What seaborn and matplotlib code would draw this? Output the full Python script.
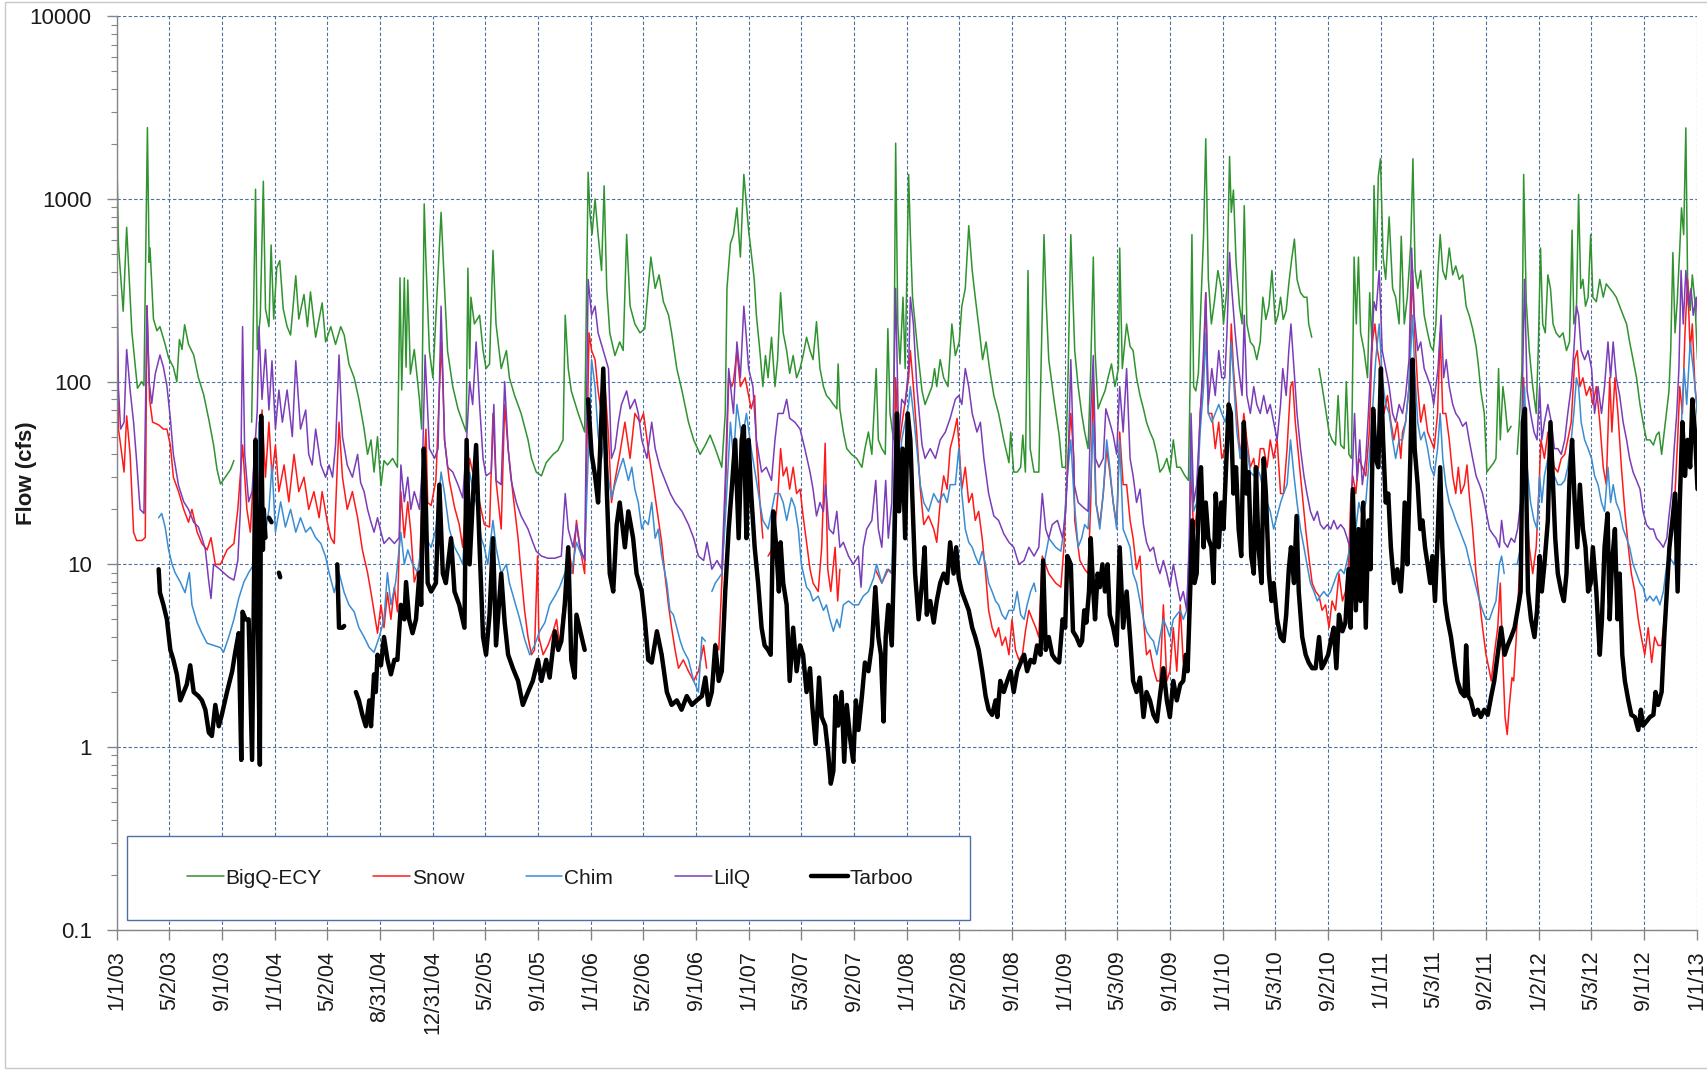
import numpy as np
import pandas as pd
import matplotlib
matplotlib.use("Agg")
import matplotlib.pyplot as plt
import matplotlib.ticker as mticker
from matplotlib.lines import Line2D
from matplotlib.patches import Rectangle
import seaborn as sns

# ---------------- data (day = days since 1/1/2003, cfs; None = gap) ----------------
START = "2003-01-01"
series_names = ["BigQ-ECY", "Snow", "Chim", "LilQ", "Tarboo"]
series_colors = ["#2f932f", "#ff1a1a", "#3a8dd2", "#7a3db8", "#000000"]

x_tick_labels = ["1/1/03", "5/2/03", "9/1/03", "1/1/04", "5/2/04", "8/31/04", "12/31/04",
                 "5/2/05", "9/1/05", "1/1/06", "5/2/06", "9/1/06", "1/1/07", "5/3/07",
                 "9/2/07", "1/1/08", "5/2/08", "9/1/08", "1/1/09", "5/3/09", "9/1/09",
                 "1/1/10", "5/3/10", "9/2/10", "1/1/11", "5/3/11", "9/2/11", "1/2/12",
                 "5/3/12", "9/1/12", "1/1/13"]
y_ticks = [0.1, 1, 10, 100, 1000, 10000]
y_tick_labels = ["0.1", "1", "10", "100", "1000", "10000"]

bigq = [(0,1840),(4,560),(15,243),(23,700),(35,188),(48,92),(58,100),(63,95),(71,2460),(75,450),(77,540),
(85,220),(93,190),(100,200),(112,160),(120,135),(131,120),(139,100),(145,170),(151,150),(157,205),(166,160),
(178,140),(189,105),(201,85),(213,62),(224,45),(232,33),(240,27.5),(251,30),(263,33),(271,37),(290,None),
(312,60),(321,1130),(325,150),(332,228),(339,1250),(344,250),(352,200),(357,560),(363,220),(370,420),(377,460),
(385,250),(394,200),(402,180),(414,380),(421,220),(433,300),(441,200),(448,310),(460,175),(475,270),(483,165),
(495,200),(506,160),(518,200),(526,180),(537,125),(549,105),(560,80),(572,55),(580,40),(588,48),(595,32),
(603,50),(611,27),(618,37),(626,35),(638,38),(649,34),(655,370),(659,90),(665,370),(669,120),(673,360),
(679,110),(688,150),(700,80),(705,55),(711,940),(715,455),(723,147),(731,105),(750,845),(758,325),(765,147),
(777,94),(789,71),(800,60),(808,53),(812,418),(816,118),(819,290),(827,207),(839,231),(847,148),(854,118),
(862,125),(870,523),(877,207),(889,118),(901,148),(908,105),(920,84),(935,67),(951,48),(959,38),(970,32),
(982,30.5),(993,36),(1009,40),(1020,42),(1032,48),(1037,231),(1044,118),(1051,89),(1067,67),(1082,53),
(1090,1400),(1094,845),(1099,640),(1106,1000),(1113,640),(1121,406),(1127,1180),(1133,324),(1140,185),
(1152,139),(1163,165),(1171,148),(1179,640),(1187,259),(1198,207),(1210,185),(1221,195),(1235,481),(1245,324),
(1254,384),(1264,274),(1276,231),(1283,185),(1295,118),(1307,89),(1322,60),(1334,48),(1349,40),(1361,45),
(1372,51),(1384,43),(1399,34),(1407,67),(1411,324),(1419,570),(1426,638),(1434,894),(1442,481),(1450,1363),
(1461,675),(1467,510),(1474,363),(1479,231),(1487,148),(1494,94),(1500,139),(1506,105),(1514,175),(1522,94),
(1528,132),(1535,307),(1541,185),(1549,148),(1556,111),(1564,139),(1572,105),(1580,118),(1587,139),(1595,175),
(1603,148),(1610,132),(1618,213),(1626,118),(1634,94),(1641,84),(1649,80),(1657,75),(1665,71),(1668,125),
(1672,71),(1680,53),(1688,43),(1699,40),(1711,38),(1723,34),(1730,43),(1738,53),(1746,40),(1756,118),(1761,48),
(1769,43),(1777,40),(1783,195),(1788,67),(1796,48),(1801,2020),(1806,207),(1811,125),(1818,290),(1823,118),
(1831,1363),(1835,638),(1840,290),(1846,207),(1854,132),(1862,89),(1869,75),(1877,84),(1885,94),(1891,118),
(1896,94),(1904,132),(1912,105),(1922,94),(1931,207),(1939,139),(1948,165),(1954,259),(1962,324),(1970,714),
(1978,406),(1985,290),(1995,185),(2002,132),(2010,165),(2018,118),(2028,84),(2039,67),(2051,48),(2063,36),
(2067,53),(2074,32),(2082,32),(2090,34),(2095,51),(2101,32),(2107,406),(2112,43),(2121,32),(2132,32),(2138,148),
(2144,638),(2149,274),(2155,132),(2167,80),(2179,51),(2186,34),(2194,34),(2200,118),(2206,638),(2215,148),
(2223,94),(2231,67),(2238,53),(2246,43),(2252,118),(2258,481),(2262,148),(2269,71),(2277,80),(2285,89),(2292,105),
(2300,125),(2308,94),(2316,118),(2319,539),(2325,118),(2335,207),(2343,156),(2350,148),(2358,105),(2366,84),
(2374,71),(2381,60),(2389,53),(2397,48),(2405,40),(2412,32),(2420,34),(2428,38),(2435,32),(2443,48),(2451,34),
(2459,34),(2470,30.5),(2478,28.8),(2482,105),(2486,638),(2490,94),(2495,89),(2501,111),(2507,274),(2513,638),
(2518,2136),(2524,363),(2531,207),(2538,274),(2546,406),(2554,324),(2559,207),(2567,324),(2573,1708),(2577,845),
(2582,1119),(2588,455),(2596,259),(2602,207),(2607,919),(2613,207),(2621,165),(2629,156),(2636,132),(2644,165),
(2650,290),(2657,219),(2664,259),(2671,406),(2679,207),(2685,231),(2691,290),(2697,219),(2704,245),(2710,343),
(2716,455),(2723,603),(2729,363),(2737,307),(2745,290),(2752,290),(2756,207),(2763,175),(2770,None),(2780,118),
(2787,94),(2795,71),(2803,53),(2810,48),(2818,45),(2824,84),(2830,45),(2838,43),(2843,100),(2849,40),(2855,38),
(2861,481),(2866,207),(2871,481),(2876,185),(2884,148),(2892,105),(2897,307),(2903,148),(2907,1184),(2912,406),
(2917,1330),(2922,1660),(2928,481),(2934,363),(2942,798),(2950,324),(2957,290),(2965,207),(2970,625),(2977,207),
(2984,290),(2992,570),(2997,1660),(3002,406),(3008,324),(3015,406),(3023,231),(3031,185),(3038,156),(3044,148),
(3050,207),(3055,406),(3060,638),(3066,406),(3073,363),(3081,539),(3089,384),(3096,430),(3104,363),(3112,384),
(3120,259),(3127,231),(3135,195),(3143,156),(3148,125),(3154,89),(3162,67),(3168,32),(3176,34),(3184,36),
(3189,38),(3195,118),(3199,48),(3205,94),(3210,75),(3216,53),(3224,57),(3231,None),(3238,40),(3243,60),(3249,118),
(3253,1363),(3259,274),(3266,148),(3274,94),(3282,67),(3287,156),(3292,539),(3297,207),(3303,185),(3309,384),
(3315,324),(3321,207),(3328,185),(3336,175),(3344,185),(3352,148),(3359,165),(3365,675),(3369,207),(3375,245),
(3380,1058),(3385,324),(3390,363),(3396,259),(3402,290),(3408,638),(3413,290),(3421,274),(3429,363),(3437,290),
(3444,343),(3452,324),(3460,307),(3467,290),(3475,259),(3483,231),(3491,207),(3498,165),(3506,132),(3514,105),
(3522,75),(3529,60),(3537,48),(3545,48),(3553,45),(3560,51),(3566,53),(3572,40),(3578,53),(3583,67),(3589,89),
(3593,148),(3598,509),(3603,185),(3608,274),(3614,539),(3618,894),(3623,638),(3628,2450),(3632,363),(3638,245),
(3643,384),(3649,274),(3655,132)]

snow = [(0,260),(4,55),(9,45),(17,32),(23,65),(31,40),(39,15),(46,13.5),(58,13.5),(66,14),(70,260),(76,80),
(83,60),(97,58),(108,55),(116,55),(124,45),(131,30),(143,25),(155,20),(166,17),(174,20),(186,15),(197,13),
(209,12),(218,14),(228,10),(240,10),(255,12),(271,13),(280,20),(291,45),(301,20),(309,15),(321,50),(329,25),
(336,70),(344,30),(352,60),(359,30),(367,45),(375,25),(387,35),(398,22),(410,40),(421,25),(433,30),(444,20),
(456,25),(468,18),(475,25),(487,17),(495,14),(503,13),(514,60),(522,30),(533,20),(545,25),(557,18),(568,12),
(580,9),(588,7),(595,5.5),(603,4.2),(611,6),(618,4.5),(626,7),(634,5),(642,7.5),(649,5.5),(657,25),(665,14),
(673,22),(680,15),(688,8),(700,10),(707,25),(715,55),(719,21.8),(727,21),(738,28.8),(746,89),(751,165),(758,48),
(769,28.8),(781,20.6),(792,16.5),(800,12.4),(808,24.4),(816,38),(823,32),(831,32),(839,21.8),(850,16.5),
(862,16),(870,67),(877,28.8),(889,15.6),(897,75),(905,43),(916,24.4),(928,13.9),(935,8.9),(943,5.6),(951,4.0),
(959,3.2),(966,3.4),(973,11.1),(976,4.0),(986,3.2),(997,3.6),(1009,4.3),(1017,5.0),(1024,3.6),(1036,7.1),
(1044,12.4),(1055,8.9),(1063,17.4),(1071,12.4),(1082,8.9),(1092,185),(1098,148),(1106,132),(1113,89),(1121,67),
(1129,94),(1137,51),(1144,21.8),(1152,28.8),(1163,40),(1175,60),(1187,38),(1198,67),(1210,60),(1218,67),
(1229,43),(1241,27.3),(1252,17.9),(1260,13.2),(1268,8.6),(1276,5.9),(1283,4.5),(1291,3.4),(1299,2.7),(1310,3.0),
(1322,2.6),(1334,2.3),(1345,2.6),(1357,3.6),(1364,2.7),(1372,None),(1384,3.7),(1392,3.4),(1399,7.9),(1407,21.8),
(1415,105),(1422,94),(1426,100),(1434,148),(1442,94),(1453,105),(1467,71),(1475,84),(1479,46),(1487,22),
(1494,13.9),(1500,None),(1506,11.1),(1518,12.4),(1529,24.4),(1535,43),(1541,30.5),(1549,34),(1556,25.8),
(1564,34),(1572,24.4),(1580,25.8),(1587,18.4),(1595,13.2),(1603,9.4),(1610,7.9),(1622,7.1),(1630,12.4),(1638,46),
(1644,9.4),(1651,7.1),(1661,12.4),(1667,6.3),(1672,9.4),(1700,None),(1754,9.4),(1769,7.9),(1784,9.4),(1796,8.9),
(1801,105),(1808,43),(1819,67),(1831,105),(1835,148),(1842,94),(1850,51),(1858,25.8),(1866,16.5),(1877,18.4),
(1889,15.6),(1896,13.2),(1904,21.8),(1912,30.5),(1920,25.8),(1927,43),(1935,51),(1943,63),(1948,43),(1954,25.8),
(1962,34),(1970,21.8),(1978,24.4),(1985,17.4),(1993,19.5),(2001,13.9),(2009,8.9),(2016,5.6),(2024,4.5),(2032,4.0),
(2039,4.5),(2047,3.6),(2055,4.0),(2063,3.2),(2070,5.0),(2078,3.4),(2086,3.0),(2094,3.2),(2101,4.3),(2109,5.6),
(2117,5.0),(2125,4.5),(2132,4.0),(2140,11.1),(2155,8.9),(2171,7.9),(2183,7.5),(2190,12.4),(2198,34),(2206,67),
(2213,38),(2215,17.4),(2227,10.5),(2238,9.4),(2246,8.9),(2252,21.8),(2258,105),(2264,21.8),(2273,16.5),
(2281,24.4),(2289,43),(2296,32),(2304,21.8),(2312,16.5),(2319,53),(2327,27.3),(2335,27.3),(2343,17.4),
(2350,13.9),(2358,9.4),(2366,11.1),(2374,5.0),(2381,3.2),(2389,3.4),(2397,2.7),(2405,2.3),(2412,2.3),(2420,6.0),
(2428,2.3),(2435,2.6),(2443,4.5),(2451,2.6),(2459,6.0),(2466,2.9),(2474,2.9),(2480,7.1),(2484,38),(2490,13.9),
(2497,19.5),(2505,67),(2513,118),(2518,307),(2524,67),(2532,67),(2540,43),(2548,60),(2555,38),(2563,43),
(2571,67),(2577,207),(2582,118),(2590,67),(2598,38),(2606,67),(2613,48),(2621,34),(2629,38),(2636,27.3),
(2644,43),(2652,43),(2660,34),(2667,48),(2675,38),(2683,48),(2691,24.4),(2698,24.4),(2706,43),(2714,94),
(2719,100),(2725,60),(2733,38),(2741,24.4),(2749,15.6),(2756,11.1),(2764,7.9),(2772,7.1),(2780,6.7),(2787,5.6),
(2795,6.0),(2803,4.5),(2810,6.3),(2818,5.6),(2826,8.9),(2834,6.3),(2841,7.1),(2848,10),(2853,21.8),(2858,30.5),
(2865,24.4),(2872,38),(2880,34),(2888,30.5),(2896,53),(2903,165),(2909,207),(2915,148),(2922,118),(2930,67),
(2938,84),(2946,60),(2953,48),(2961,60),(2969,38),(2973,53),(2980,60),(2988,94),(2996,406),(3001,185),(3008,94),
(3015,60),(3023,75),(3031,53),(3038,48),(3046,43),(3054,67),(3060,185),(3066,67),(3073,67),(3081,48),(3089,30.5),
(3096,24.4),(3102,34),(3108,24.4),(3116,27.3),(3122,35),(3127,24.4),(3135,15.6),(3143,8.9),(3151,6.3),(3158,4.5),
(3166,3.2),(3174,2.6),(3178,2.3),(3185,3.2),(3193,4.5),(3199,7.9),(3205,2.9),(3210,1.46),(3215,1.17),(3220,1.7),
(3226,2.4),(3230,2.3),(3236,4.0),(3241,7.1),(3247,12.4),(3253,105),(3259,24.4),(3266,12.4),(3274,8.9),(3282,12.4),
(3287,21.8),(3293,48),(3301,38),(3309,53),(3317,43),(3324,34),(3332,32),(3340,38),(3348,40),(3355,48),(3363,60),
(3371,132),(3377,148),(3383,94),(3390,105),(3398,84),(3406,94),(3413,75),(3421,94),(3429,60),(3437,34),
(3444,27.3),(3452,105),(3457,53),(3464,105),(3471,67),(3479,34),(3487,19.5),(3495,12.4),(3502,8.9),(3510,7.1),
(3518,5.0),(3525,4.0),(3533,3.2),(3541,4.5),(3549,2.9),(3556,4.0),(3564,3.6),(3572,3.6),(3580,5.6),(3586,8.9),
(3591,12.4),(3597,17.4),(3603,24.4),(3609,48),(3614,94),(3620,67),(3626,185),(3632,363),(3638,148),(3643,207),
(3649,94),(3655,67)]

chim = [(97,18),(104,19),(112,16),(120,12),(128,10),(135,9),(147,8),(158,7),(168,9),(174,6),(186,4.8),(197,4.2),
(209,3.7),(224,3.6),(240,3.5),(247,3.3),(259,4.0),(271,5),(282,6.5),(294,8),(305,9),(317,10),(325,20),(329,60),
(336,25),(344,15),(352,20),(359,35),(367,15),(379,22),(390,16),(402,20),(414,15),(425,18),(437,15),(448,16),
(460,14),(472,13),(483,11),(491,9),(503,7),(514,9),(526,7),(537,6),(549,5.5),(560,4.5),(572,4),(584,3.5),
(595,3.3),(607,4),(618,5),(626,9),(634,6),(645,8),(657,15),(665,10),(673,12),(684,10),(696,9),(707,14),
(715,13.9),(727,12.4),(738,15.6),(750,32),(758,24.4),(769,15.6),(781,12.4),(792,11.1),(800,10),(808,21.8),
(816,32),(823,25.8),(831,21.8),(843,13.9),(850,12.4),(858,10),(870,17.4),(877,12.4),(889,8.9),(901,10),(908,7.9),
(920,6.3),(932,5.0),(943,3.9),(955,3.2),(966,3.6),(978,4.3),(990,4.8),(1001,6.0),(1013,6.7),(1024,7.5),(1036,8.9),
(1044,10.5),(1051,8.9),(1063,13.2),(1075,11.1),(1082,11.1),(1098,132),(1106,94),(1113,51),(1121,38),(1129,53),
(1136,30.5),(1144,23.1),(1152,27.3),(1164,34),(1171,38),(1183,28.8),(1191,34),(1198,25.8),(1206,21.8),(1214,15.6),
(1221,17.4),(1229,16.5),(1237,21.8),(1245,13.9),(1252,15.6),(1260,11.1),(1272,7.9),(1279,5.6),(1287,5.3),
(1295,4.5),(1303,3.8),(1310,3.4),(1322,3.0),(1334,2.3),(1345,2.0),(1353,4.0),(1361,3.8),(1368,None),(1376,7.1),
(1384,7.9),(1392,8.4),(1399,8.9),(1407,17.4),(1419,60),(1426,38),(1434,75),(1446,48),(1456,67),(1467,43),
(1479,28.8),(1487,21.8),(1494,17.4),(1506,15.6),(1522,24.4),(1533,24.4),(1541,21.8),(1549,17.4),(1560,23.1),
(1568,20.6),(1576,15.6),(1583,10),(1595,7.5),(1603,7.1),(1610,6.3),(1622,6.7),(1634,5.6),(1641,6.0),(1649,5.0),
(1657,4.3),(1665,5.0),(1672,4.5),(1680,6.0),(1692,6.3),(1703,6.0),(1715,6.0),(1726,6.7),(1738,7.1),(1750,8.4),
(1757,10),(1769,7.9),(1781,9.4),(1792,8.9),(1801,60),(1808,28.8),(1815,48),(1823,60),(1831,75),(1835,94),
(1842,67),(1850,43),(1858,27.3),(1866,21.8),(1877,19.5),(1889,24.4),(1900,21.8),(1912,24.4),(1920,21.8),
(1927,27.3),(1939,27.3),(1947,43),(1954,24.4),(1962,15.6),(1970,13.2),(1978,12.4),(1985,11.1),(1993,10),
(2001,11.8),(2009,10),(2016,7.9),(2024,7.1),(2032,6.3),(2039,6.0),(2047,5.3),(2055,5.0),(2063,5.6),(2074,5.6),
(2082,7.1),(2090,5.3),(2098,5.0),(2105,6.0),(2113,7.1),(2121,7.9),(2125,7.1),(2132,None),(2140,8.9),(2155,13.9),
(2171,12.4),(2183,11.8),(2190,15.6),(2198,30.5),(2206,48),(2214,21.8),(2223,12.4),(2231,13.9),(2238,16.5),
(2246,15.6),(2252,28.8),(2258,60),(2264,21.8),(2273,15.6),(2281,24.4),(2289,48),(2296,34),(2304,21.8),
(2312,15.6),(2319,48),(2327,15.6),(2335,13.9),(2343,12.4),(2350,8.9),(2358,7.9),(2366,6.3),(2374,5.0),(2381,4.3),
(2389,4.0),(2397,3.8),(2405,3.2),(2412,4.0),(2420,5.0),(2428,4.5),(2435,4.0),(2443,5.0),(2451,5.3),(2459,5.6),
(2466,5.0),(2474,5.6),(2480,12.4),(2484,43),(2490,19.5),(2497,21.8),(2505,53),(2513,94),(2518,185),(2524,67),
(2532,60),(2540,67),(2548,75),(2555,67),(2563,60),(2571,75),(2577,165),(2582,105),(2590,53),(2598,38),(2606,60),
(2613,43),(2621,32),(2629,30.5),(2636,34),(2644,30.5),(2652,24.4),(2660,21.8),(2667,19.5),(2675,15.6),
(2683,18.4),(2691,21.8),(2698,24.4),(2706,27.3),(2714,48),(2722,30.5),(2729,21.8),(2737,15.6),(2745,12.4),
(2752,10),(2760,7.9),(2768,7.1),(2776,6.3),(2783,6.7),(2791,7.1),(2799,6.7),(2807,7.1),(2814,7.9),(2822,8.9),
(2830,9.4),(2838,8.9),(2845,10.5),(2851,12.4),(2857,21.8),(2865,15.6),(2872,21.8),(2880,18.4),(2888,21.8),
(2896,38),(2903,67),(2911,132),(2919,207),(2926,105),(2934,75),(2942,67),(2950,48),(2957,38),(2965,48),
(2973,48),(2980,60),(2988,94),(2996,231),(3001,118),(3008,60),(3015,48),(3023,53),(3031,43),(3038,34),
(3046,30.5),(3054,43),(3060,67),(3066,38),(3073,27.3),(3081,21.8),(3089,19.5),(3096,17.4),(3104,15.6),
(3112,13.9),(3120,12.4),(3127,10.5),(3135,8.9),(3143,7.5),(3151,6.3),(3158,5.6),(3166,5.0),(3174,5.0),(3181,5.6),
(3189,6.3),(3197,10),(3202,11.1),(3208,8.9),(3218,None),(3230,10),(3238,10),(3246,12.4),(3251,38),(3255,94),
(3261,34),(3269,21.8),(3277,17.4),(3284,15.6),(3290,30.5),(3295,21.8),(3301,30.5),(3309,38),(3317,34),
(3324,30.5),(3332,27.3),(3340,27.3),(3348,28.8),(3355,34),(3363,48),(3369,67),(3375,105),(3380,94),(3386,60),
(3394,48),(3402,43),(3410,38),(3417,30.5),(3425,27.3),(3433,21.8),(3440,19.5),(3448,34),(3454,21.8),(3460,27.3),
(3467,21.8),(3475,19.5),(3483,15.6),(3491,13.9),(3498,12.4),(3506,10),(3514,8.9),(3522,7.9),(3529,7.5),
(3537,6.3),(3545,6.7),(3553,6.3),(3560,6.7),(3568,6.0),(3576,7.1),(3584,10),(3589,11.1),(3595,10.5),(3601,10),
(3607,12.4),(3612,19.5),(3618,60),(3624,118),(3630,75),(3638,165),(3645,118),(3653,75),(3657,53)]

lilq = [(0,520),(4,92),(9,55),(17,60),(23,150),(31,90),(39,60),(46,37),(54,20),(63,19),(70,260),(75,100),(81,76),
(89,110),(100,140),(108,120),(116,95),(124,63),(131,40),(143,27),(155,22),(166,20),(178,17),(189,16),(197,14),
(205,12),(213,8),(218,6.5),(224,10),(236,9.5),(247,9.0),(259,8.5),(271,8.2),(280,10.5),(286,20),(291,200),
(296,40),(305,22),(313,25),(325,70),(329,200),(336,80),(344,150),(352,70),(359,130),(367,55),(375,90),(383,60),
(394,90),(406,50),(414,130),(425,55),(437,70),(444,40),(452,35),(460,55),(472,35),(483,30),(491,35),(499,30),
(506,45),(514,140),(522,50),(533,35),(545,30),(557,40),(564,28),(572,25),(580,20),(588,17),(595,15),(603,18),
(611,15),(618,13),(630,14),(642,13),(653,14),(657,35),(665,22),(673,30),(680,20),(688,25),(700,20),(707,35),
(713,140),(723,43),(735,38),(743,43),(750,259),(758,48),(765,34),(777,32),(789,27.3),(800,23.1),(808,43),
(816,100),(823,75),(831,165),(839,75),(847,38),(854,30.5),(866,32),(872,75),(877,28.8),(889,27.3),(897,100),
(905,43),(912,28.8),(924,21.8),(935,18.4),(951,15.6),(962,13.2),(970,11.8),(982,11.1),(997,10.8),(1013,10.8),
(1028,11.1),(1037,24.4),(1044,15.6),(1055,12.4),(1063,16.5),(1071,12.4),(1082,10.5),(1090,363),(1098,231),
(1106,259),(1113,185),(1125,148),(1137,118),(1144,38),(1152,43),(1160,60),(1167,75),(1179,89),(1187,71),
(1198,80),(1206,67),(1214,48),(1226,38),(1237,60),(1245,43),(1256,34),(1268,28.8),(1280,24.4),(1291,21.8),
(1307,19.5),(1322,16.5),(1334,13.9),(1345,11.1),(1357,10.5),(1365,13.2),(1376,9.4),(1388,10.5),(1399,9.4),
(1407,28.8),(1415,118),(1426,67),(1434,165),(1442,105),(1450,259),(1455,185),(1461,118),(1471,94),(1479,48),
(1491,32),(1502,34),(1514,28.8),(1522,48),(1529,67),(1541,67),(1549,80),(1556,63),(1568,60),(1580,55),(1591,43),
(1603,32),(1610,25.8),(1618,18.4),(1626,21.8),(1634,19.5),(1639,27.3),(1647,15.6),(1657,14.7),(1665,19.5),
(1672,12.4),(1680,13.2),(1692,11.1),(1703,10),(1715,11.1),(1721,7.5),(1726,12.4),(1734,15.6),(1746,17.4),
(1755,28.8),(1761,15.6),(1769,12.4),(1778,28.8),(1784,13.9),(1792,21.8),(1801,324),(1808,48),(1815,80),
(1823,75),(1831,118),(1835,290),(1842,207),(1850,94),(1862,45),(1869,38),(1881,43),(1893,38),(1904,48),
(1916,53),(1927,63),(1939,80),(1947,84),(1954,75),(1962,118),(1970,94),(1978,67),(1989,53),(1997,60),(2005,38),
(2016,24.4),(2028,18.4),(2039,17.4),(2051,14.7),(2063,13.2),(2074,12.4),(2086,10),(2098,10.5),(2109,12.4),
(2121,11.1),(2132,12.4),(2140,24.4),(2148,15.6),(2155,13.9),(2163,16.5),(2175,17.4),(2187,13.9),(2194,19.5),
(2200,38),(2206,132),(2214,27.3),(2223,21.8),(2234,20.6),(2246,19.5),(2252,67),(2258,139),(2263,38),(2271,34),
(2281,38),(2287,71),(2296,60),(2304,51),(2312,40),(2319,94),(2327,53),(2335,118),(2343,38),(2350,30.5),
(2358,21.8),(2366,25.8),(2374,16.5),(2381,13.2),(2389,11.8),(2397,12.4),(2405,10),(2412,8.9),(2420,10.5),
(2428,8.9),(2435,7.5),(2443,10),(2451,7.9),(2459,6.3),(2466,7.1),(2474,5.6),(2480,13.9),(2484,67),(2490,21.8),
(2497,27.3),(2505,63),(2513,148),(2518,307),(2524,75),(2532,118),(2540,84),(2548,148),(2555,105),(2562,105),
(2567,185),(2573,509),(2578,324),(2586,185),(2594,118),(2602,84),(2607,231),(2613,84),(2621,67),(2629,94),
(2636,75),(2644,67),(2652,84),(2660,67),(2667,75),(2675,60),(2683,48),(2691,75),(2696,118),(2704,84),(2710,148),
(2715,207),(2722,118),(2729,67),(2737,43),(2745,30.5),(2752,24.4),(2760,19.5),(2768,17.4),(2776,19.5),
(2783,16.5),(2791,15.6),(2799,16.5),(2807,15.6),(2814,17.4),(2822,15.6),(2830,16.5),(2838,15.6),(2845,13.9),
(2851,12.4),(2857,32),(2862,67),(2868,28.8),(2874,48),(2880,27.3),(2888,38),(2894,67),(2902,165),(2907,274),
(2912,245),(2919,406),(2926,148),(2934,118),(2942,94),(2950,67),(2957,60),(2965,75),(2973,67),(2980,84),
(2988,132),(2994,539),(3000,231),(3008,148),(3015,165),(3023,118),(3031,105),(3038,94),(3045,75),(3050,94),
(3055,118),(3062,231),(3068,105),(3074,132),(3081,94),(3089,75),(3096,67),(3104,63),(3112,57),(3120,60),
(3127,48),(3135,38),(3143,30.5),(3151,27.3),(3158,24.4),(3166,19.5),(3174,15.6),(3181,14.7),(3189,13.9),
(3197,12.4),(3202,17.4),(3208,13.2),(3216,12.4),(3224,13.9),(3232,13.2),(3239,15.6),(3246,21.8),(3251,118),
(3255,363),(3261,89),(3269,67),(3277,53),(3284,48),(3290,94),(3295,48),(3301,60),(3309,75),(3317,60),(3324,43),
(3332,43),(3340,40),(3348,48),(3355,67),(3363,94),(3369,148),(3375,259),(3380,231),(3386,148),(3394,132),
(3402,148),(3410,118),(3417,67),(3425,94),(3433,67),(3440,94),(3448,165),(3454,105),(3460,165),(3467,105),
(3475,84),(3483,60),(3491,48),(3498,38),(3506,32),(3514,28.8),(3522,25.8),(3529,19.5),(3537,16.5),(3545,15.6),
(3553,15.6),(3560,13.9),(3568,13.2),(3576,12.4),(3584,13.9),(3589,18.4),(3595,24.4),(3601,43),(3607,67),
(3612,118),(3617,406),(3622,207),(3628,406),(3634,259),(3640,324),(3645,231),(3652,290),(3657,185)]

tarboo = [(97,9.4),(100,7),(108,6),(116,5),(124,3.4),(131,3),(139,2.5),(147,1.8),(155,2.0),(162,2.2),(170,2.8),
(178,2.0),(189,1.9),(197,1.8),(205,1.6),(213,1.2),(220,1.15),(228,1.7),(236,1.3),(243,1.5),(255,2),(267,2.6),
(274,3.3),(282,4.2),(288,0.85),(291,5.5),(298,5),(305,5),(313,0.85),(321,48),(325,8),(331,0.8),(334,65),(338,12),
(340,20),(344,14),(348,None),(352,18),(358,17),(362,None),(375,9),(378,8.5),(385,None),(510,10),(514,4.5),
(522,4.5),(526,4.6),(540,None),(553,2.0),(560,1.8),(568,1.5),(576,1.3),(584,1.8),(588,1.3),(595,2.5),(599,2.0),
(603,3.2),(611,2.8),(618,4),(626,3),(634,2.5),(642,3),(649,3),(657,6),(665,5),(669,8),(676,5),(684,4.2),(692,5),
(700,9),(704,6),(710,43),(715,20),(719,7.9),(727,7.1),(738,7.9),(746,27.3),(754,8.9),(761,7.9),(773,13.9),
(781,7.1),(792,6.0),(804,4.5),(809,48),(816,10),(823,21.8),(831,45),(839,12.4),(847,4.0),(854,3.2),(862,5.3),
(870,13.9),(877,3.6),(889,8.9),(897,4.8),(905,3.2),(916,2.7),(928,2.3),(939,1.7),(951,2.0),(962,2.3),(974,3.0),
(982,2.3),(993,3.0),(1001,2.4),(1013,4.3),(1021,3.4),(1028,3.8),(1036,6.0),(1044,12.4),(1051,3.0),(1059,2.4),
(1063,5.3),(1075,4.0),(1082,3.4),(1086,None),(1090,80),(1098,40),(1106,30.5),(1113,21.8),(1125,118),
(1133,25.8),(1140,8.9),(1148,7.1),(1156,16.5),(1163,21.8),(1175,12.4),(1183,19.5),(1194,13.9),(1202,8.9),
(1214,7.1),(1221,5.0),(1229,3.0),(1237,2.9),(1249,4.3),(1260,3.2),(1272,2.0),(1283,1.7),(1295,1.8),(1306,1.6),
(1318,1.9),(1330,1.7),(1341,1.8),(1353,1.9),(1361,2.4),(1368,1.7),(1376,2.0),(1384,3.6),(1392,2.3),(1399,2.6),
(1407,7.1),(1415,15.6),(1422,25.8),(1430,48),(1438,13.9),(1445,48),(1450,57),(1456,13.9),(1461,48),(1467,24.4),
(1475,12.4),(1483,7.9),(1491,4.5),(1498,3.6),(1506,3.4),(1512,3.2),(1518,19.5),(1525,12.4),(1531,7.1),
(1535,13.2),(1541,7.9),(1549,6.0),(1556,2.3),(1564,4.5),(1572,2.6),(1580,3.6),(1587,3.2),(1595,2.0),(1603,2.7),
(1608,1.7),(1616,1.04),(1624,2.4),(1630,1.46),(1638,1.31),(1645,0.93),(1651,0.63),(1657,0.74),(1662,1.9),
(1668,1.31),(1676,2.0),(1682,0.83),(1688,1.7),(1696,1.1),(1703,0.83),(1709,1.8),(1715,1.24),(1723,1.9),
(1730,2.9),(1738,2.6),(1746,3.6),(1754,7.5),(1761,4.0),(1767,3.2),(1773,1.38),(1778,4.0),(1784,6.0),(1792,3.6),
(1798,12.4),(1804,67),(1809,19.5),(1817,43),(1823,13.9),(1829,67),(1835,48),(1840,21.8),(1846,8.9),(1854,5.0),
(1862,7.9),(1868,12.4),(1873,5.3),(1881,6.3),(1889,4.8),(1896,6.3),(1904,7.9),(1912,8.9),(1920,7.9),(1927,13.2),
(1935,8.9),(1941,12.4),(1947,8.4),(1954,7.1),(1962,6.3),(1970,5.6),(1978,4.5),(1985,4.0),(1993,3.4),(2001,2.6),
(2009,1.9),(2016,1.6),(2024,1.5),(2032,1.8),(2036,1.46),(2043,2.3),(2051,2.0),(2059,2.3),(2067,2.6),(2074,2.0),
(2082,2.6),(2090,2.9),(2098,3.2),(2105,2.6),(2113,3.0),(2121,2.9),(2128,3.6),(2136,3.2),(2142,10.5),(2148,3.4),
(2155,4.0),(2163,3.2),(2171,3.0),(2179,2.9),(2187,5.0),(2193,4.5),(2198,11.1),(2206,10),(2211,4.3),(2219,4.0),
(2227,3.6),(2232,3.8),(2237,5.6),(2242,4.8),(2248,7.1),(2252,13.9),(2258,7.1),(2262,5.0),(2268,8.9),(2273,7.5),
(2279,10),(2285,7.1),(2291,10),(2296,5.3),(2304,4.5),(2312,3.6),(2319,12.4),(2327,4.5),(2335,7.1),(2343,4.0),
(2350,2.3),(2358,2.0),(2366,2.4),(2374,1.46),(2381,2.0),(2389,1.8),(2397,1.5),(2405,1.38),(2412,1.9),(2420,2.7),
(2428,1.8),(2435,1.46),(2443,2.3),(2451,1.8),(2459,2.2),(2466,2.3),(2472,3.2),(2476,2.6),(2482,7.1),(2487,17.4),
(2492,7.9),(2497,8.9),(2503,28.8),(2507,34),(2513,12.4),(2518,21.8),(2524,13.9),(2531,12.4),(2536,7.9),
(2541,24.4),(2548,12.4),(2554,21.8),(2559,15.6),(2565,34),(2571,75),(2576,67),(2582,24.4),(2588,34),(2594,15.6),
(2600,11.1),(2606,60),(2612,24.4),(2617,32),(2623,11.1),(2629,8.9),(2634,34),(2640,12.4),(2647,7.9),(2652,38),
(2657,24.4),(2664,8.9),(2670,6.3),(2675,7.9),(2683,5.0),(2691,4.0),(2698,3.8),(2704,5.3),(2710,9.4),(2715,12.4),
(2722,7.9),(2728,18.4),(2733,7.1),(2741,4.0),(2749,3.2),(2756,2.9),(2764,2.7),(2772,2.7),(2780,4.0),(2786,2.7),
(2793,2.9),(2801,3.2),(2809,4.0),(2814,4.5),(2820,2.7),(2826,5.3),(2834,4.3),(2841,4.8),(2848,9.4),(2853,4.5),
(2858,25.8),(2865,5.6),(2871,15.6),(2876,6.3),(2882,21.8),(2888,4.5),(2894,17.4),(2899,9.4),(2905,71),(2911,38),
(2917,34),(2923,118),(2928,48),(2934,21.8),(2940,24.4),(2946,12.4),(2953,7.9),(2961,9.4),(2969,7.1),(2973,10),
(2978,21.8),(2984,10),(2991,38),(2996,132),(3001,43),(3008,27.3),(3014,15.6),(3019,17.4),(3025,12.4),(3031,10),
(3037,7.9),(3042,11.1),(3048,6.3),(3054,13.9),(3060,34),(3065,12.4),(3071,6.3),(3077,5.0),(3085,4.0),(3093,2.9),
(3100,2.3),(3108,2.0),(3116,1.9),(3120,3.6),(3125,1.9),(3131,1.8),(3139,1.5),(3147,1.6),(3154,1.46),(3162,1.6),
(3170,1.5),(3178,1.9),(3185,2.3),(3193,3.2),(3201,4.5),(3209,3.2),(3216,3.6),(3224,4.0),(3232,4.5),(3239,5.6),
(3246,7.1),(3251,60),(3256,71),(3263,7.1),(3270,5.0),(3278,4.0),(3284,5.6),(3290,11.1),(3295,7.1),(3301,10),
(3309,17.4),(3315,60),(3321,27.3),(3326,13.9),(3332,8.9),(3340,7.1),(3346,6.3),(3352,8.9),(3359,28.8),(3365,48),
(3371,21.8),(3377,12.4),(3383,27.3),(3390,15.6),(3396,12.4),(3402,7.1),(3408,7.9),(3413,12.4),(3421,7.1),
(3429,3.2),(3434,5.0),(3440,12.4),(3447,19),(3452,5.0),(3457,10),(3464,15.6),(3470,5.0),(3475,8.9),(3481,3.2),
(3487,2.3),(3495,1.8),(3502,1.5),(3510,1.46),(3518,1.24),(3524,1.6),(3529,1.31),(3537,1.38),(3545,1.46),
(3553,1.5),(3558,2.0),(3564,1.7),(3572,2.0),(3578,4.0),(3584,7.1),(3590,12.4),(3597,17.4),(3603,24.4),(3609,7.1),
(3614,21.8),(3620,60),(3626,30.5),(3632,48),(3638,34),(3643,80),(3649,53),(3655,25.8)]

series_data = [bigq, snow, chim, lilq, tarboo]
series_lw = [1.1, 1.1, 1.1, 1.1, 3.2]
legend_x = [0.0446, 0.1625, 0.2589, 0.3534, 0.4395]   # left edge of each legend entry (axes fraction)


def to_frame(pairs, name):
    seg = 0
    rows = []
    base = pd.Timestamp(START)
    for d, v in pairs:
        if v is None:
            seg += 1
            continue
        rows.append((base + pd.Timedelta(days=d), float(v), seg))
    df = pd.DataFrame(rows, columns=["date", "cfs", "seg"])
    df["series"] = name
    return df


# ---------------- figure ----------------
sns.set_theme(style="white")
plt.rcParams["font.family"] = ["Liberation Sans", "DejaVu Sans"]

fig = plt.figure(figsize=(17.07, 10.71), dpi=100)
ax = fig.add_axes([0.06837, 0.13193, 0.92557, 0.85285])

for pairs, name, col, lw in zip(series_data, series_names, series_colors, series_lw):
    df = to_frame(pairs, name)
    sns.lineplot(data=df, x="date", y="cfs", units="seg", estimator=None,
                 color=col, linewidth=lw, ax=ax, legend=False)

ax.set_yscale("log")
ax.set_ylim(0.1, 10000)
ax.set_xlim(pd.Timestamp("2003-01-01"), pd.Timestamp("2013-01-01"))

xt = pd.date_range("2003-01-01", "2013-01-01", periods=len(x_tick_labels))
ax.set_xticks(xt)
ax.set_xticklabels(x_tick_labels, rotation=90, fontsize=15.5, color="#1a1a1a")
ax.yaxis.set_major_locator(mticker.FixedLocator(y_ticks))
ax.set_yticklabels(y_tick_labels, fontsize=16, color="#1a1a1a")
ax.yaxis.set_minor_locator(mticker.LogLocator(base=10, subs=np.arange(2, 10)))
ax.yaxis.set_minor_formatter(mticker.NullFormatter())

ax.tick_params(axis="x", which="major", bottom=True, direction="out", length=7,
               width=1, color="#868686", pad=8)
ax.tick_params(axis="y", which="major", left=True, direction="out", length=7,
               width=1, color="#868686", pad=11)
ax.tick_params(axis="y", which="minor", left=True, direction="out", length=4,
               width=0.8, color="#868686")

ax.set_xlabel("")
ax.set_ylabel("Flow (cfs)", fontsize=16, fontweight="bold", color="#1a1a1a")
ax.yaxis.set_label_coords(-0.0506, 0.5)

ax.grid(True, which="major", axis="both", color="#4d6fa0",
        linestyle=(0, (3, 2)), linewidth=0.8)
ax.set_axisbelow(True)
for s in ["top", "right"]:
    ax.spines[s].set_visible(False)
for s in ["left", "bottom"]:
    ax.spines[s].set_color("#868686")
    ax.spines[s].set_linewidth(1.0)

# legend box
ax.add_patch(Rectangle((0.0065, 0.0106), 0.5335, 0.092, transform=ax.transAxes,
                       facecolor="white", edgecolor="#4f6fa8", linewidth=1.0,
                       zorder=5, clip_on=False))
for i, (name, col, lw, lx) in enumerate(zip(series_names, series_colors, series_lw, legend_x)):
    h = Line2D([0], [0], color=col, lw=lw)
    leg = ax.legend([h], [name], loc="center left", bbox_to_anchor=(lx, 0.0566),
                    frameon=False, fontsize=15, handlelength=1.75,
                    handletextpad=0.1, borderpad=0, borderaxespad=0)
    leg.set_zorder(6)
    for t in leg.get_texts():
        t.set_color("#1a1a1a")
    if i < len(series_names) - 1:
        ax.add_artist(leg)

# outer chart border
fig.patches.append(Rectangle((0.0029, 0.0028), 1.0, 0.995, transform=fig.transFigure,
                             fill=False, edgecolor="#c8c8c8", linewidth=1.0))

fig.savefig("out.png", dpi=100)
